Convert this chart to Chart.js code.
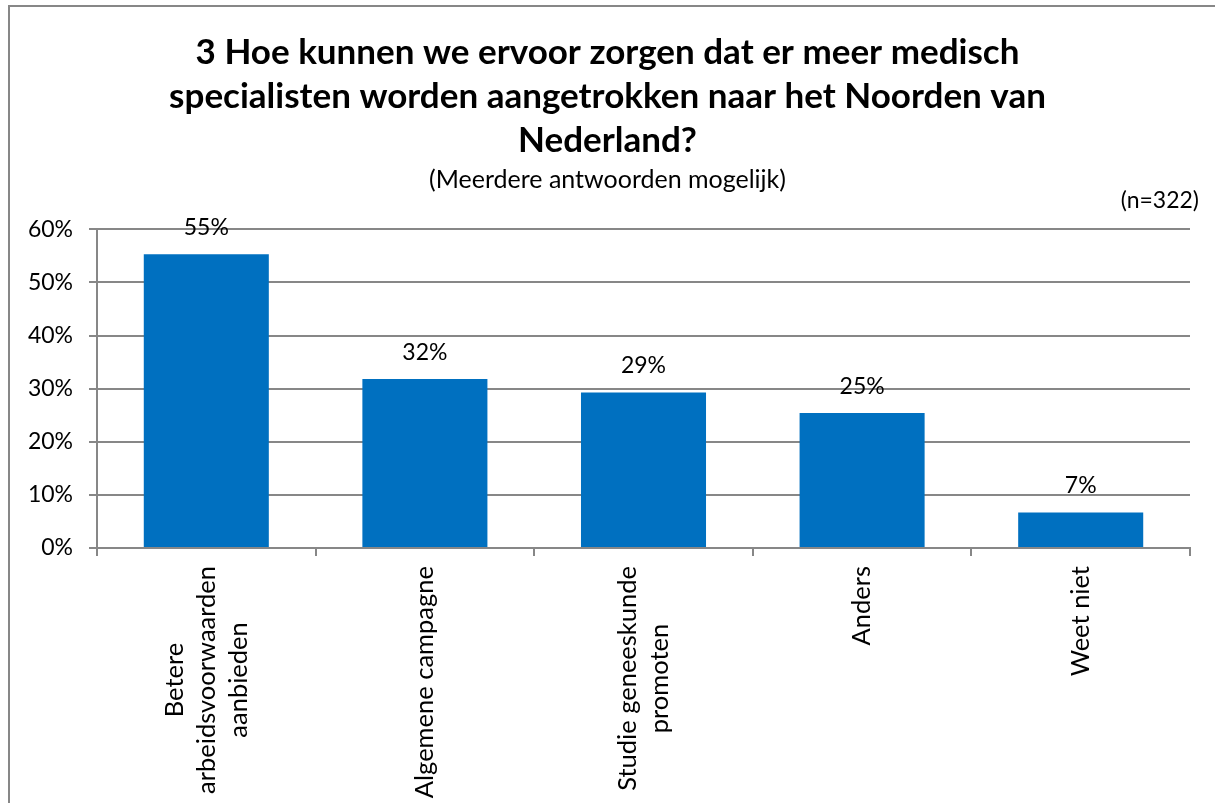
<!DOCTYPE html>
<html><head><meta charset="utf-8">
<script src="https://cdn.jsdelivr.net/npm/chart.js@4"></script>
<style>
html,body{margin:0;padding:0;background:#fff;overflow:hidden;}
#wrap{position:relative;width:1215px;height:803px;overflow:hidden;}
#frame{position:absolute;left:8px;top:5px;width:1300px;height:900px;border:2px solid #878787;box-sizing:border-box;pointer-events:none;}
canvas{position:absolute;left:0;top:0;}
</style></head>
<body><div id="wrap"><canvas id="c" width="1215" height="803"></canvas><div id="frame"></div></div>
<script>
const categories = [
  ["Betere", "arbeidsvoorwaarden", "aanbieden"],
  ["Algemene campagne"],
  ["Studie geneeskunde", "promoten"],
  ["Anders"],
  ["Weet niet"]
];
const values = [55.3, 31.8, 29.3, 25.4, 6.7];
const valueLabels = ["55%", "32%", "29%", "25%", "7%"];
const yTickValues = [0, 10, 20, 30, 40, 50, 60];
const titleLines = [
  "3 Hoe kunnen we ervoor zorgen dat er meer medisch",
  "specialisten worden aangetrokken naar het Noorden van",
  "Nederland?"
];
const subtitleText = "(Meerdere antwoorden mogelijk)";
const sampleNote = "(n=322)";

const FONT = "Lato";
const GRID = "#878787";
const LABEL_SIZE = 23;
const XLABEL_SIZE = 25.5;

const valueLabelPlugin = {
  id: "valueLabels",
  afterDatasetsDraw(chart) {
    const ctx = chart.ctx;
    const meta = chart.getDatasetMeta(0);
    ctx.save();
    ctx.font = LABEL_SIZE + "px " + FONT;
    ctx.fillStyle = "#000";
    ctx.textAlign = "center";
    ctx.textBaseline = "middle";
    meta.data.forEach((bar, i) => {
      ctx.fillText(valueLabels[i], bar.x, bar.y - 27);
    });
    ctx.restore();
  }
};

const xLabelPlugin = {
  id: "xLabels",
  afterDraw(chart) {
    const ctx = chart.ctx;
    const xs = chart.scales.x;
    ctx.save();
    ctx.font = XLABEL_SIZE + "px " + FONT;
    ctx.fillStyle = "#000";
    ctx.textAlign = "center";
    ctx.textBaseline = "middle";
    const lh = 32;
    categories.forEach((lines, i) => {
      const x = xs.getPixelForTick(i);
      const W = Math.max(...lines.map(l => ctx.measureText(l).width));
      const n = lines.length;
      ctx.save();
      ctx.translate(x, xs.top + 18 + W / 2);
      ctx.rotate(-Math.PI / 2);
      lines.forEach((l, j) => ctx.fillText(l, 0, (j - (n - 1) / 2) * lh));
      ctx.restore();
    });
    // sample size note
    ctx.font = LABEL_SIZE + "px " + FONT;
    ctx.textAlign = "right";
    ctx.fillText(sampleNote, 1199, 201);
    ctx.restore();
  }
};

new Chart(document.getElementById("c"), {
  type: "bar",
  data: {
    labels: categories,
    datasets: [{
      data: values,
      backgroundColor: "#0070C0",
      borderWidth: 0,
      barPercentage: 0.572,
      categoryPercentage: 1.0
    }]
  },
  options: {
    responsive: false,
    animation: false,
    devicePixelRatio: 1,
    layout: { padding: { left: 25, right: 25, top: 0, bottom: 247 } },
    plugins: {
      legend: { display: false },
      tooltip: { enabled: false },
      title: {
        display: true,
        text: titleLines,
        color: "#000",
        font: { family: FONT, size: 35, weight: "bold", lineHeight: 1.27 },
        padding: { top: 30, bottom: 0 }
      },
      subtitle: {
        display: true,
        text: subtitleText,
        color: "#000",
        font: { family: FONT, size: 25, lineHeight: 1.2 },
        padding: { top: 2, bottom: 34 }
      }
    },
    scales: {
      x: {
        grid: { display: true, drawOnChartArea: false, drawTicks: true, tickLength: 8, color: GRID, lineWidth: 2, offset: true },
        border: { display: true, color: GRID, width: 2 },
        ticks: { display: false }
      },
      y: {
        min: 0, max: 60,
        afterFit(scale) { scale.width = 72; },
        afterBuildTicks(scale) { scale.ticks = yTickValues.map(v => ({ value: v })); },
        grid: { color: GRID, lineWidth: 2, drawTicks: true, tickLength: 8 },
        border: { display: true, color: GRID, width: 2 },
        ticks: {
          color: "#000",
          padding: 16,
          font: { family: FONT, size: LABEL_SIZE },
          callback: v => v + "%"
        }
      }
    }
  },
  plugins: [valueLabelPlugin, xLabelPlugin]
});
</script>
</body></html>
